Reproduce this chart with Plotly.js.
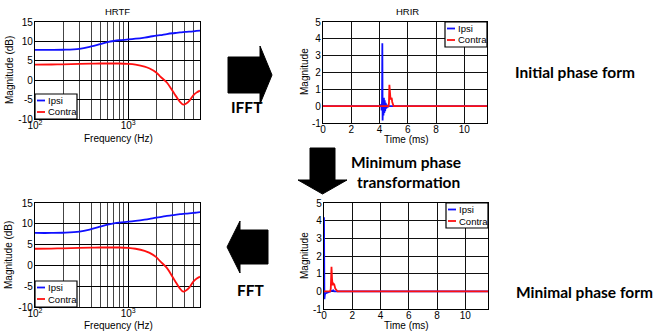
<!DOCTYPE html>
<html><head><meta charset="utf-8">
<script src="https://cdn.plot.ly/plotly-3.0.1.min.js"></script>
<style>html,body{margin:0;padding:0;background:#fff}#chart{width:659px;height:333px}</style>
</head><body><div id="chart"></div>
<script>
// ---------- data ----------
const seriesNames = ['Ipsi', 'Contra'];
// HRTF magnitude (dB) vs frequency (Hz)
const freqHz   = [100,150,200,300,400,500,600,700,800,1000,1200,1500,1700,2000,2200,2600,3000,3300,3600,3900,4200,4500,5000,5400,5900];
const hrtfIpsi = [7.8,7.8,7.85,8.1,8.7,9.3,9.8,10.1,10.3,10.5,10.7,11.0,11.2,11.5,11.6,11.9,12.1,12.2,12.3,12.4,12.45,12.5,12.6,12.7,12.8];
const hrtfContra = [4.0,4.05,4.1,4.2,4.25,4.3,4.3,4.3,4.3,4.2,4.0,3.5,3.0,2.0,1.0,-0.6,-2.8,-4.3,-5.6,-6.3,-6.0,-5.4,-3.9,-3.2,-2.7];
// HRIR, initial phase (time in ms)
const hrirIpsiTime = [0,4.08,4.12,4.15,4.18,4.20,4.22,4.25,4.28,4.31,4.34,4.37,4.40,4.44,4.48,4.52,4.56,4.62,11.61];
const hrirIpsi     = [0,0,0.12,-0.25,0.3,3.74,-0.85,0.45,-0.55,0.5,-0.4,0.35,-0.3,0.2,-0.15,0.08,-0.05,0,0];
const hrirContraTime = [0,4.60,4.64,4.67,4.70,4.74,4.78,4.82,4.86,4.90,4.95,5.0,11.61];
const hrirContra     = [0,0,-0.05,0.2,1.27,0.6,0.4,0.45,0.5,0.25,0.05,0,0];
// HRIR, minimum phase
const minIpsiTime = [0,0.03,0.06,0.1,0.15,0.22,0.3,0.4,0.5,0.6,0.66,0.72,11.61];
const minIpsi     = [4.2,-0.45,-0.2,-0.12,-0.1,-0.08,-0.05,-0.02,0,0.04,0.06,0,0];
const minContraTime = [0,0.44,0.48,0.53,0.57,0.61,0.65,0.69,0.73,0.8,0.88,0.95,11.61];
const minContra     = [0,0,0.15,1.39,0.7,0.35,0.45,0.42,0.38,0.15,0.03,0,0];
// ticks
const hrtfYTicks = [-10,-5,0,5,10,15];
const hrtfYText  = ['-10','-5','0','5','10','15'];
const hrtfXTicks = [100,1000];
const hrtfXText  = ['10<sup>2</sup>','10<sup>3</sup>'];
const hrtfXMinor = [200,300,400,500,600,700,800,900,2000,3000,4000,5000];
const hrirYTicks = [-1,0,1,2,3,4,5];
const hrirYText  = ['-1','0','1','2','3','4','5'];
const hrirXTicks = [0,2,4,6,8,10];
const hrirXText  = ['0','2','4','6','8','10'];

// ---------- layout helpers ----------
const W = 659, H = 333;
const px = x => x / W, py = y => 1 - y / H;
const BLUE = '#1010ff', RED = '#ff1010';
const AF = 'Liberation Sans, Arial, sans-serif';
const BF = 'Lato, Open Sans, sans-serif';

// subplot frames in pixels [left, top, right, bottom]
const frames = {
  a: [35, 22, 200, 119],
  b: [323, 22, 487, 123],
  c: [35, 203, 200, 307],
  d: [324, 203, 488, 309]
};
function dom(f){ return {x:[px(f[0]), px(f[2])], y:[py(f[3]), py(f[1])]}; }

const commonAx = {
  showline:true, mirror:true, linecolor:'#000', linewidth:1.2,
  showgrid:true, gridcolor:'#000', gridwidth:1, zeroline:false,
  ticks:'', tickfont:{family:AF, size:10, color:'#000'}, fixedrange:true
};
function xLog(f, anchor){
  const d = dom(f);
  return Object.assign({}, commonAx, {type:'log', domain:d.x, anchor:anchor, ticklabelstandoff:-3,
    range:[2, Math.log10(5900)], tickmode:'array', tickvals:hrtfXTicks, ticktext:hrtfXText,
    minor:{tickmode:'array', tickvals:hrtfXMinor, showgrid:true, gridcolor:'#444', gridwidth:1, ticks:''}});
}
function yDb(f, anchor){
  const d = dom(f);
  return Object.assign({}, commonAx, {domain:d.y, anchor:anchor, range:[-10,15], ticklabelstandoff:-1,
    tickmode:'array', tickvals:hrtfYTicks, ticktext:hrtfYText});
}
function xTime(f, anchor){
  const d = dom(f);
  return Object.assign({}, commonAx, {domain:d.x, anchor:anchor, range:[0,11.61], ticklabelstandoff:-3,
    tickmode:'array', tickvals:hrirXTicks, ticktext:hrirXText, gridcolor:'#111'});
}
function yMag(f, anchor){
  const d = dom(f);
  return Object.assign({}, commonAx, {domain:d.y, anchor:anchor, range:[-1,5], ticklabelstandoff:-1,
    tickmode:'array', tickvals:hrirYTicks, ticktext:hrirYText, gridcolor:'#111'});
}

const traces = [
  {x:freqHz, y:hrtfIpsi, xaxis:'x', yaxis:'y', line:{color:BLUE, width:1.8, shape:'spline'}},
  {x:freqHz, y:hrtfContra, xaxis:'x', yaxis:'y', line:{color:RED, width:1.8, shape:'spline'}},
  {x:hrirIpsiTime, y:hrirIpsi, xaxis:'x2', yaxis:'y2', line:{color:BLUE, width:1.8}},
  {x:hrirContraTime, y:hrirContra, xaxis:'x2', yaxis:'y2', line:{color:RED, width:1.8}},
  {x:freqHz, y:hrtfIpsi, xaxis:'x3', yaxis:'y3', line:{color:BLUE, width:1.8, shape:'spline'}},
  {x:freqHz, y:hrtfContra, xaxis:'x3', yaxis:'y3', line:{color:RED, width:1.8, shape:'spline'}},
  {x:minIpsiTime, y:minIpsi, xaxis:'x4', yaxis:'y4', line:{color:BLUE, width:1.8}},
  {x:minContraTime, y:minContra, xaxis:'x4', yaxis:'y4', line:{color:RED, width:1.8}}
].map((t,i) => Object.assign(t, {type:'scatter', mode:'lines', name:seriesNames[i%2], showlegend:false, hoverinfo:'skip'}));

const shapes = [], annotations = [];
function txt(text, x, y, opts){
  annotations.push(Object.assign({text:text, xref:'paper', yref:'paper', x:px(x), y:py(y),
    showarrow:false, xanchor:'center', yanchor:'middle', font:{family:AF, size:10, color:'#000'}}, opts||{}));
}
function legendBox(l, t, r, b){
  shapes.push({type:'rect', xref:'paper', yref:'paper', x0:px(l), x1:px(r), y0:py(b), y1:py(t),
    line:{color:'#000', width:1.2}, fillcolor:'#fff', layer:'above'});
  const rows = [t + 6.5, t + 18];
  [BLUE, RED].forEach((c,i) => {
    shapes.push({type:'line', xref:'paper', yref:'paper', x0:px(l+2), x1:px(l+10), y0:py(rows[i]), y1:py(rows[i]),
      line:{color:c, width:1.8}, layer:'above'});
    txt(seriesNames[i], l+10.5, rows[i], {xanchor:'left', font:{family:AF, size:9.5, color:'#000'}});
  });
}
// legends
legendBox(35, 94, 77, 119);
legendBox(445, 22, 487, 47);
legendBox(35, 281, 77, 307);
legendBox(446, 203, 488, 228);

// subplot titles and axis titles
txt('HRTF', 117, 11, {font:{family:AF, size:9.5, color:'#000'}});
txt('HRIR', 407, 11, {font:{family:AF, size:9.5, color:'#000'}});
txt('Frequency (Hz)', 118, 138);
txt('Time (ms)', 406, 139);
txt('Frequency (Hz)', 118, 325);
txt('Time (ms)', 406, 325);
txt('Magnitude (dB)', 9, 70, {textangle:-90});
txt('Magnitude', 304, 72, {textangle:-90});
txt('Magnitude (dB)', 9, 255, {textangle:-90});
txt('Magnitude', 304, 256, {textangle:-90});

// bold captions
const bold = {family:BF, size:15.5, color:'#000', weight:'bold'};
txt('IFFT', 247, 107, {font:bold});
txt('FFT', 251, 290, {font:bold});
txt('Minimum phase', 406, 162, {font:bold});
txt('transformation', 408, 182, {font:bold});
txt('Initial phase form', 575, 72, {font:bold});
txt('Minimal phase form', 584, 292, {font:bold});

// block arrows
function pathOf(pts){ return 'M' + pts.map(p => px(p[0]) + ',' + py(p[1])).join(' L') + ' Z'; }
function arrowShape(pts){
  shapes.push({type:'path', xref:'paper', yref:'paper', path:pathOf(pts), fillcolor:'#000', line:{color:'#000', width:1}});
}
// right arrow (IFFT)
arrowShape([[228,57],[260,57],[260,46],[272,75],[260,104],[260,93],[228,93]]);
// down arrow (min-phase transform)
arrowShape([[310,148],[335,148],[335,180],[347,180],[322.5,194],[298,180],[310,180]]);
// left arrow (FFT)
arrowShape([[268,230],[240,230],[240,221],[227,247],[240,273],[240,264],[268,264]]);

const layout = {
  width:W, height:H, margin:{l:0, r:0, t:0, b:0}, paper_bgcolor:'#fff', plot_bgcolor:'#fff',
  showlegend:false,
  xaxis: xLog(frames.a, 'y'),  yaxis: yDb(frames.a, 'x'),
  xaxis2: xTime(frames.b, 'y2'), yaxis2: yMag(frames.b, 'x2'),
  xaxis3: xLog(frames.c, 'y3'), yaxis3: yDb(frames.c, 'x3'),
  xaxis4: xTime(frames.d, 'y4'), yaxis4: yMag(frames.d, 'x4'),
  shapes: shapes, annotations: annotations
};
Plotly.newPlot('chart', traces, layout, {displayModeBar:false, staticPlot:true});
</script></body></html>
